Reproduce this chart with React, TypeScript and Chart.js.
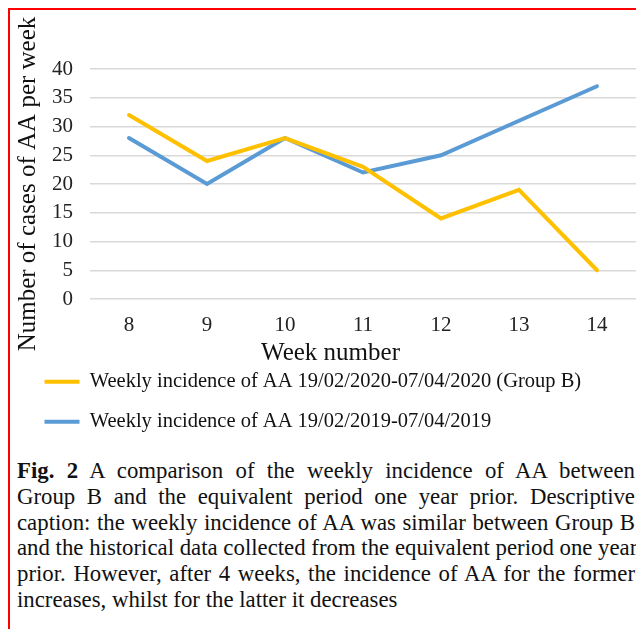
import React, { useEffect, useRef } from "react";
import { Chart, registerables } from "chart.js";

Chart.register(...registerables);

const weeks: string[] = ["8", "9", "10", "11", "12", "13", "14"];
const group2020: number[] = [32, 24, 28, 23, 14, 19, 5];
const group2019: number[] = [28, 20, 28, 22, 25, 31, 37];
const yTicks: number[] = [0, 5, 10, 15, 20, 25, 30, 35, 40];
const label2020 = "Weekly incidence of AA 19/02/2020-07/04/2020 (Group B)";
const label2019 = "Weekly incidence of AA 19/02/2019-07/04/2019";
const yTitle = "Number of cases of AA per week";
const xTitle = "Week number";
const captionLines: string[] = [
  "A comparison of the weekly incidence of AA between",
  "Group B and the equivalent period one year prior. Descriptive",
  "caption: the weekly incidence of AA was similar between Group B",
  "and the historical data collected from the equivalent period one year",
  "prior. However, after 4 weeks, the incidence of AA for the former",
  "increases, whilst for the latter it decreases",
];

const SERIF = "'Liberation Serif', 'Times New Roman', serif";

export default function App() {
  const ref = useRef<HTMLCanvasElement | null>(null);

  useEffect(() => {
    if (!ref.current) return;
    const chart = new Chart(ref.current, {
      type: "line",
      data: {
        labels: weeks,
        datasets: [
          {
            label: label2020,
            data: group2020,
            borderColor: "#FFC000",
            backgroundColor: "#FFC000",
            borderWidth: 4,
            borderCapStyle: "round",
            pointRadius: 0,
            tension: 0,
          },
          {
            label: label2019,
            data: group2019,
            borderColor: "#5B9BD5",
            backgroundColor: "#5B9BD5",
            borderWidth: 4,
            borderCapStyle: "round",
            pointRadius: 0,
            tension: 0,
          },
        ],
      },
      options: {
        animation: false,
        responsive: false,
        maintainAspectRatio: false,
        layout: { padding: { left: 25, top: 69, right: 0, bottom: 0 } },
        plugins: {
          tooltip: { enabled: false },
          title: {
            display: true,
            text: xTitle,
            position: "bottom",
            weight: 500,
            color: "#111",
            font: { family: SERIF, size: 25, weight: "normal", lineHeight: 1.2 },
            padding: { top: 0, bottom: -16 },
          },
          legend: {
            display: true,
            position: "bottom",
            align: "start",
            weight: 1000,
            labels: {
              usePointStyle: true,
              pointStyle: "line",
              pointStyleWidth: 35,
              padding: 19.5,
              color: "#111",
              font: { family: SERIF, size: 20.5 },
            },
          },
        },
        scales: {
          x: {
            offset: true,
            afterFit: (s: any) => {
              s.height = 39;
            },
            grid: { display: false, drawTicks: false },
            border: { display: false },
            ticks: {
              color: "#222",
              padding: 14,
              maxRotation: 0,
              autoSkip: false,
              font: { family: SERIF, size: 21 },
            },
          },
          y: {
            min: 0,
            max: 40,
            afterFit: (s: any) => {
              s.width = 65;
            },
            afterBuildTicks: (s: any) => {
              s.ticks = yTicks.map((v) => ({ value: v }));
            },
            grid: { color: "#d9d9d9", lineWidth: 1.5, drawTicks: false },
            border: { display: false },
            ticks: {
              color: "#222",
              padding: 17,
              autoSkip: false,
              font: { family: SERIF, size: 21 },
            },
            title: {
              display: true,
              text: yTitle,
              color: "#111",
              font: { family: SERIF, size: 25, lineHeight: 1 },
              padding: { top: -9, bottom: 0 },
            },
          },
        },
      },
    });
    return () => chart.destroy();
  }, []);

  const lastIdx = captionLines.length - 1;

  return (
    <div
      style={{
        position: "fixed",
        left: 0,
        top: 0,
        width: 636,
        height: 629,
        overflow: "hidden",
        background: "#fff",
      }}
    >
      <div
        style={{
          position: "absolute",
          left: 8,
          top: 8,
          width: 1000,
          height: 1000,
          borderLeft: "2px solid #ff0000",
          borderTop: "2px solid #ff0000",
        }}
      />
      <canvas
        ref={ref}
        width={636}
        height={442}
        style={{ position: "absolute", left: 0, top: 0, width: 636, height: 442 }}
      />
      <div
        style={{
          position: "absolute",
          left: 17,
          top: 458,
          width: 618,
          fontFamily: SERIF,
          fontSize: 22.8,
          lineHeight: "25.8px",
          color: "#111",
        }}
      >
        {captionLines.map((line, i) => (
          <div
            key={i}
            style={{
              whiteSpace: "nowrap",
              textAlign: i === lastIdx ? "left" : "justify",
              textAlignLast: i === lastIdx ? "left" : "justify",
            }}
          >
            {i === 0 ? (
              <>
                <b>Fig. 2</b> {line}
              </>
            ) : (
              line
            )}
          </div>
        ))}
      </div>
    </div>
  );
}
